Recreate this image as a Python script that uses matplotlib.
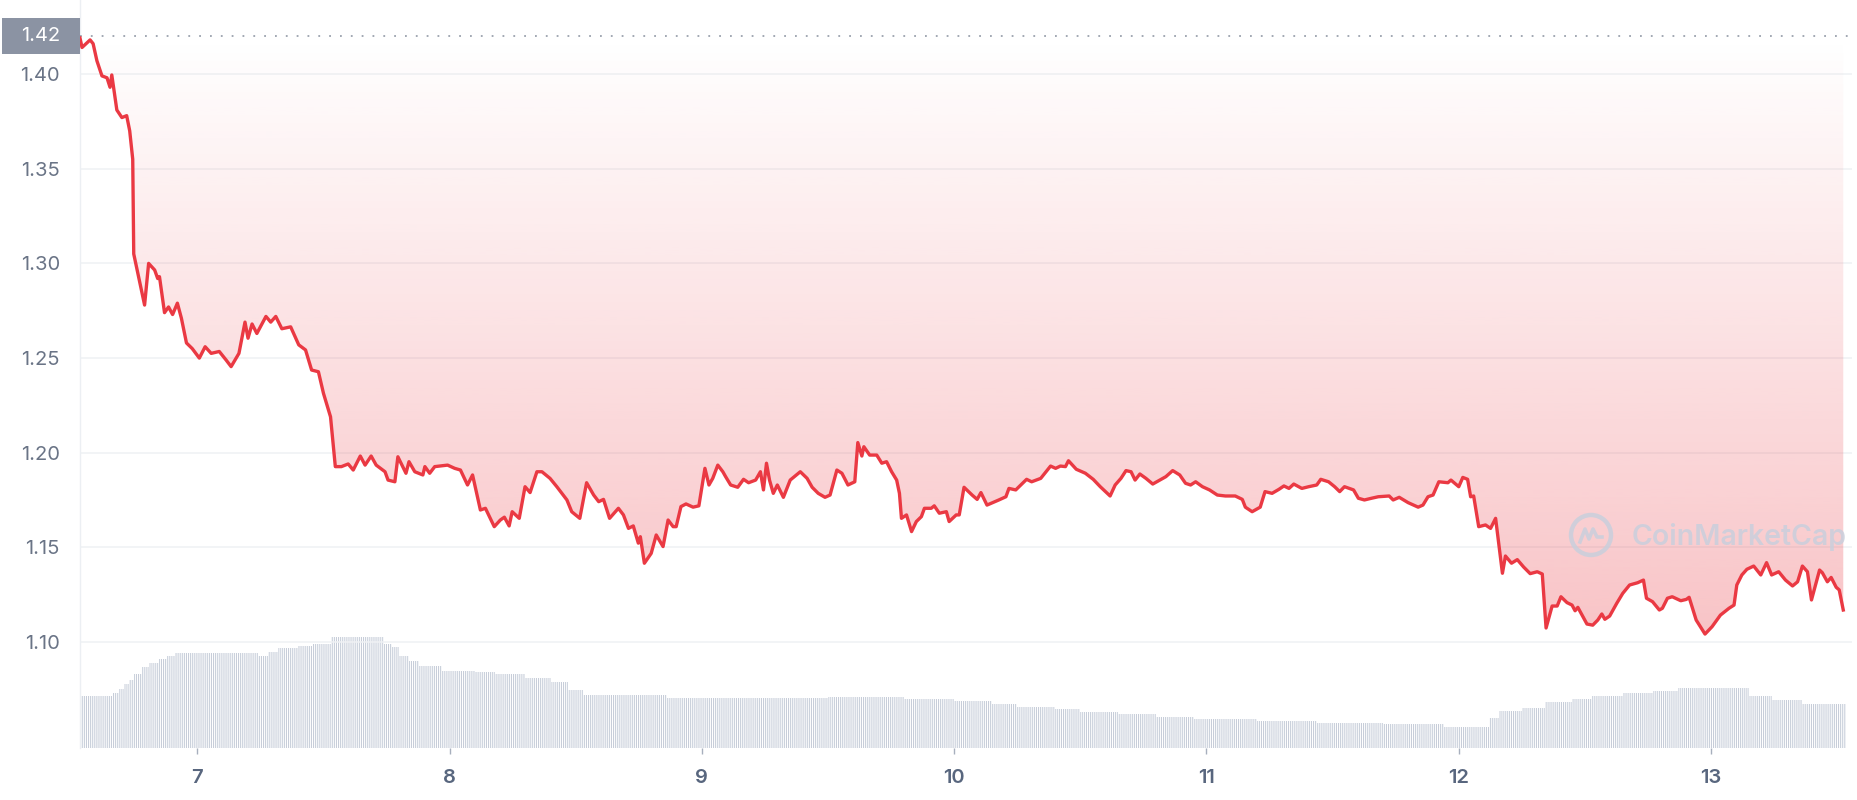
import numpy as np
import matplotlib
matplotlib.use("Agg")
import matplotlib.pyplot as plt
from matplotlib import transforms
from matplotlib.patches import Rectangle, Circle
from matplotlib.lines import Line2D

plt.rcParams['font.family'] = ['Inter', 'DejaVu Sans']
plt.rcParams['hatch.linewidth'] = 0.75

# ---------------- data ----------------
days = [6.535, 6.543, 6.559, 6.575, 6.587, 6.602, 6.622, 6.642, 6.654, 6.661, 6.681, 6.701, 6.720, 6.732, 6.744,
        6.748, 6.764, 6.791, 6.807, 6.831, 6.843, 6.850, 6.870, 6.886, 6.902, 6.921, 6.937, 6.957, 6.980, 7.008,
        7.031, 7.055, 7.087, 7.114, 7.134, 7.165, 7.189, 7.201, 7.217, 7.236, 7.272, 7.291, 7.311, 7.335, 7.370,
        7.402, 7.429, 7.453, 7.480, 7.500, 7.528, 7.547, 7.571, 7.598, 7.618, 7.646, 7.665, 7.689, 7.709, 7.744,
        7.756, 7.783, 7.795, 7.827, 7.839, 7.862, 7.894, 7.902, 7.921, 7.941, 7.992, 8.020, 8.043, 8.071, 8.091,
        8.122, 8.142, 8.177, 8.201, 8.217, 8.236, 8.248, 8.276, 8.299, 8.319, 8.346, 8.366, 8.398, 8.425, 8.465,
        8.484, 8.516, 8.543, 8.571, 8.591, 8.610, 8.634, 8.669, 8.689, 8.709, 8.728, 8.748, 8.756, 8.772, 8.799,
        8.819, 8.846, 8.866, 8.886, 8.898, 8.917, 8.937, 8.965, 8.988, 9.012, 9.028, 9.043, 9.063, 9.083, 9.094,
        9.114, 9.142, 9.165, 9.185, 9.213, 9.232, 9.244, 9.256, 9.268, 9.283, 9.299, 9.323, 9.350, 9.390, 9.417,
        9.437, 9.461, 9.488, 9.508, 9.535, 9.555, 9.579, 9.606, 9.618, 9.634, 9.642, 9.665, 9.693, 9.713, 9.732,
        9.752, 9.772, 9.783, 9.791, 9.811, 9.831, 9.850, 9.870, 9.882, 9.909, 9.921, 9.941, 9.969, 9.980, 10.008,
        10.020, 10.039, 10.071, 10.091, 10.106, 10.130, 10.177, 10.205, 10.217, 10.244, 10.264, 10.287, 10.307,
        10.343, 10.382, 10.402, 10.421, 10.441, 10.453, 10.484, 10.520, 10.551, 10.579, 10.618, 10.638, 10.661,
        10.681, 10.701, 10.717, 10.736, 10.760, 10.787, 10.815, 10.839, 10.866, 10.894, 10.917, 10.937, 10.957,
        10.984, 11.012, 11.043, 11.075, 11.114, 11.142, 11.154, 11.181, 11.213, 11.232, 11.260, 11.287, 11.307,
        11.327, 11.346, 11.378, 11.405, 11.437, 11.453, 11.484, 11.508, 11.528, 11.547, 11.583, 11.602, 11.626,
        11.654, 11.681, 11.724, 11.740, 11.764, 11.799, 11.839, 11.858, 11.878, 11.898, 11.921, 11.957, 11.969,
        12.000, 12.016, 12.035, 12.047, 12.059, 12.079, 12.106, 12.126, 12.146, 12.173, 12.185, 12.209, 12.232,
        12.257, 12.283, 12.311, 12.331, 12.346, 12.370, 12.390, 12.405, 12.429, 12.449, 12.461, 12.472, 12.508,
        12.531, 12.551, 12.567, 12.579, 12.598, 12.626, 12.650, 12.677, 12.709, 12.732, 12.744, 12.768, 12.795,
        12.807, 12.827, 12.846, 12.880, 12.902, 12.913, 12.941, 12.976, 13.004, 13.037, 13.071, 13.091, 13.102,
        13.122, 13.142, 13.169, 13.197, 13.220, 13.240, 13.268, 13.295, 13.323, 13.343, 13.362, 13.382, 13.398,
        13.430, 13.441, 13.461, 13.476, 13.496, 13.508, 13.524]

price = [1.419, 1.414, 1.416, 1.418, 1.416, 1.407, 1.399, 1.398, 1.393, 1.3995, 1.381, 1.377, 1.378, 1.370, 1.355,
         1.305, 1.295, 1.278, 1.300, 1.2965, 1.292, 1.293, 1.274, 1.277, 1.273, 1.279, 1.271, 1.258, 1.255, 1.250,
         1.256, 1.2525, 1.2535, 1.249, 1.2455, 1.2525, 1.269, 1.2605, 1.268, 1.263, 1.272, 1.269, 1.272, 1.2655, 1.2665,
         1.257, 1.2543, 1.2437, 1.2428, 1.2314, 1.219, 1.1927, 1.1927, 1.1941, 1.1909, 1.1983, 1.1935, 1.1983, 1.1935, 1.190,
         1.1856, 1.1847, 1.1979, 1.1892, 1.1953, 1.190, 1.1883, 1.1927, 1.1892, 1.1927, 1.1935, 1.1918, 1.1909, 1.183, 1.1883,
         1.1698, 1.1707, 1.161, 1.1645, 1.166, 1.1614, 1.1689, 1.1654, 1.1821, 1.179, 1.190, 1.190, 1.1865, 1.1821, 1.1751,
         1.1689, 1.1654, 1.1842, 1.1777, 1.1742, 1.1754, 1.1654, 1.1707, 1.1672, 1.1601, 1.1614, 1.1523, 1.1557, 1.1417, 1.1469,
         1.1566, 1.1505, 1.1645, 1.161, 1.161, 1.1716, 1.173, 1.1713, 1.172, 1.1918, 1.183, 1.1865, 1.1935, 1.190, 1.1874,
         1.183, 1.1818, 1.186, 1.1842, 1.1856, 1.190, 1.1804, 1.1945, 1.1856, 1.1786, 1.183, 1.1765, 1.1856, 1.190, 1.1865,
         1.1818, 1.1786, 1.1765, 1.1777, 1.1909, 1.1892, 1.183, 1.1847, 1.2054, 1.1983, 1.2032, 1.1988, 1.1988, 1.1945, 1.1953,
         1.190, 1.1856, 1.1786, 1.1654, 1.1672, 1.1584, 1.1637, 1.1663, 1.1707, 1.1707, 1.172, 1.1681, 1.1689, 1.1637, 1.1672,
         1.1672, 1.1818, 1.1777, 1.1754, 1.179, 1.1724, 1.1751, 1.1768, 1.1812, 1.1804, 1.183, 1.186, 1.1847,
         1.1865, 1.193, 1.1918, 1.193, 1.1927, 1.1958, 1.1913, 1.1892, 1.186, 1.1821, 1.1772, 1.183, 1.1865,
         1.1906, 1.190, 1.1856, 1.1888, 1.1865, 1.1835, 1.1856, 1.1874, 1.1906, 1.1883, 1.1839, 1.183, 1.1847,
         1.1821, 1.1804, 1.1777, 1.1772, 1.1772, 1.1754, 1.1713, 1.1689, 1.1713, 1.1795, 1.1786, 1.1807, 1.1825,
         1.1812, 1.1835, 1.1812, 1.1821, 1.183, 1.186, 1.1847, 1.1821, 1.1795, 1.1821, 1.1804, 1.176, 1.1751,
         1.176, 1.1768, 1.1772, 1.1751, 1.1765, 1.1737, 1.1713, 1.1724, 1.1768, 1.1777, 1.1847, 1.1842, 1.1856,
         1.1821, 1.187, 1.186, 1.1768, 1.1772, 1.161, 1.1619, 1.1601, 1.1654, 1.1364, 1.1455, 1.1417, 1.1436,
         1.1397, 1.1362, 1.1372, 1.1360, 1.1075, 1.1191, 1.1191, 1.124, 1.1209, 1.1196, 1.1166, 1.1184, 1.1096,
         1.109, 1.1117, 1.1149, 1.1121, 1.1138, 1.1205, 1.1258, 1.1302, 1.1314, 1.1328, 1.1232, 1.1214, 1.117,
         1.1179, 1.1232, 1.124, 1.1219, 1.1226, 1.1237, 1.1117, 1.1043, 1.1082, 1.1143, 1.1179, 1.1196, 1.1302,
         1.1355, 1.1385, 1.1402, 1.1355, 1.142, 1.1355, 1.1372, 1.1328, 1.1297, 1.1319, 1.1402, 1.1372, 1.1223,
         1.1381, 1.1367, 1.1319, 1.1342, 1.129, 1.1276, 1.117]

baseline_price = 1.42
baseline_label = '1.42'
y_ticks = [1.10, 1.15, 1.20, 1.25, 1.30, 1.35, 1.40]
x_ticks = [7, 8, 9, 10, 11, 12, 13]
x_labels = ['7', '8', '9', '10', '11', '12', '13']

# volume (arbitrary units, 24h rolling), step starts in days
vol_days = [6.535, 6.66, 6.69, 6.71, 6.73, 6.75, 6.78, 6.81, 6.85, 6.88, 6.91, 7.24, 7.28, 7.32, 7.40,
            7.46, 7.53, 7.74, 7.77, 7.80, 7.84, 7.88, 7.97, 8.10, 8.18, 8.30, 8.40, 8.47, 8.53, 8.86,
            9.50, 9.80, 10.00, 10.15, 10.25, 10.40, 10.50, 10.65, 10.80, 10.95, 11.20, 11.44, 11.70, 11.94,
            12.12, 12.16, 12.25, 12.34, 12.45, 12.53, 12.65, 12.77, 12.87, 13.15, 13.24, 13.36]
vol_vals = [52, 55, 59, 64, 68, 74, 81, 85, 89, 92, 95, 92, 96, 100, 102,
            104, 111, 104, 101, 92, 87, 82, 77, 76, 74, 70, 66, 58, 53, 50,
            51, 49, 47, 44, 41, 39, 36, 34, 31, 29, 27, 25, 24, 21,
            30, 37, 40, 46, 49, 52, 55, 57, 60, 52, 48, 44]
vol_end = 13.535

# ---------------- figure ----------------
W, H = 1858, 800
fig = plt.figure(figsize=(W / 100, H / 100), dpi=100)
fig.patch.set_facecolor('white')

ax_l, ax_r, ax_t, ax_b = 80, 1852, 0, 748
pos = [ax_l / W, (H - ax_b) / H, (ax_r - ax_l) / W, (ax_b - ax_t) / H]

axv = fig.add_axes(pos)
ax = fig.add_axes(pos)
ax.patch.set_alpha(0)

xmin, xmax = 6.535, 13.535 + 6 / 254
for a in (ax, axv):
    a.set_xlim(xmin, xmax)

# volume bars
edges = vol_days + [vol_end]
widths = np.diff(edges)
axv.bar(vol_days, vol_vals, width=widths, align='edge', facecolor='white',
        edgecolor='#c6cdd9', hatch='|' * 8, linewidth=0)
axv.set_ylim(0, 748)
axv.axis('off')

# price axes
ymin = 1.40 - 674 / 1894
ymax = 1.40 + 74 / 1894
ax.set_ylim(ymin, ymax)

red = '#ea3943'
poly = ax.fill_between(days, price, baseline_price, facecolor='none', edgecolor='none')
n = 256
grad = np.zeros((n, 1, 4))
grad[:, 0, 0] = 234 / 255
grad[:, 0, 1] = 57 / 255
grad[:, 0, 2] = 67 / 255
grad[:, 0, 3] = np.linspace(0.0, 0.30, n)
low = min(price)
im = ax.imshow(grad, extent=[days[0], days[-1], low, baseline_price], aspect='auto',
               origin='upper', zorder=1, interpolation='bilinear')
im.set_clip_path(poly.get_paths()[0], transform=ax.transData)

ax.plot(days, price, color=red, lw=2.4, zorder=4, solid_joinstyle='round')

# baseline dotted
ax.axhline(baseline_price, color='#9aa1ad', lw=1.3, linestyle=(0, (1, 5)), zorder=3)

# grid
ax.set_yticks(y_ticks)
ax.set_yticklabels([f'{v:.2f}' for v in y_ticks])
ax.yaxis.grid(True, color='#eff1f4', lw=1.1, zorder=0)
ax.set_axisbelow(True)
ax.tick_params(axis='y', length=0, pad=14.5, labelsize=14.5, labelcolor='#6a7486')

ax.set_xticks(x_ticks)
ax.set_xticklabels(x_labels)
ax.tick_params(axis='x', length=4, width=1, color='#a7afbd', pad=11, labelsize=14.5,
               labelcolor='#58667e', direction='out')
for lab in ax.get_xticklabels():
    lab.set_fontweight('semibold')

for s in ['top', 'right', 'bottom']:
    ax.spines[s].set_visible(False)
ax.spines['left'].set_color('#eceff3')
ax.spines['left'].set_linewidth(1.0)

# start-price tag
btr = transforms.blended_transform_factory(fig.transFigure, ax.transData)
tag = Rectangle((2 / W, baseline_price - 0.0095), 78 / W, 0.019, transform=btr,
                facecolor='#8b93a3', edgecolor='none', zorder=10, clip_on=False)
fig.add_artist(tag)
fig.text(60.5 / W, baseline_price, baseline_label, transform=btr, ha='right', va='center',
         color='white', fontsize=14.5, zorder=11)

# watermark
wm = '#c9cfdc'
ident = transforms.IdentityTransform()
cx, cy = 1591, H - 535
fig.add_artist(Circle((cx, cy), 20, transform=ident, fill=False, edgecolor=wm, lw=3.2, alpha=0.85))
wx = [cx - 11, cx - 6, cx - 2, cx + 2, cx + 6, cx + 11]
wy = [cy - 7, cy + 6, cy - 4, cy + 6, cy - 2, cy - 2]
fig.add_artist(Line2D(wx, wy, transform=ident, color=wm, lw=2.6, alpha=0.85, solid_joinstyle='round'))
fig.text(1632 / W, (H - 537) / H, 'CoinMarketCap', color=wm, alpha=0.85, fontsize=20.5,
         fontweight='semibold', ha='left', va='center')

fig.savefig('out.png', dpi=100, facecolor='white')
